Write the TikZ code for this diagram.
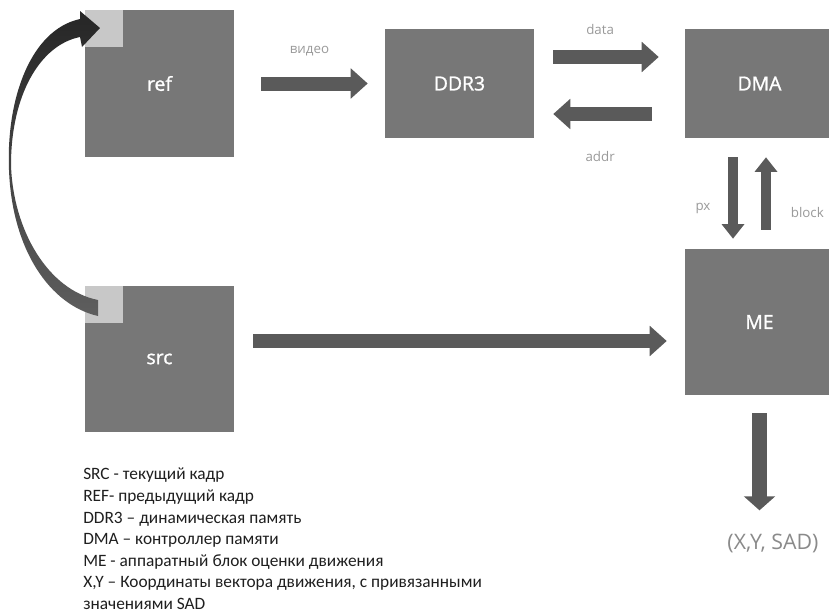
\documentclass[tikz,border=0pt]{standalone}
\usepackage{fontspec}
\setmainfont{Carlito}
\newfontfamily\boxfont{Open Sans}
\newfontfamily\boxlabelfont{Open Sans}[FakeBold=1.2]
\usetikzlibrary{arrows.meta,positioning,calc}

\definecolor{boxgray}{HTML}{777777}
\definecolor{cornergray}{HTML}{C8C8C8}
\definecolor{arrowgray}{HTML}{5A5A5A}
\definecolor{labelgray}{HTML}{9A9A9A}
\definecolor{resgray}{HTML}{8A8A8A}
\definecolor{curvetop}{HTML}{262626}
\definecolor{curvebot}{HTML}{5E5E5E}

\tikzset{
  blk/.style={fill=boxgray,inner sep=0pt,minimum width=111.75pt,
    text=white,font=\boxlabelfont\fontsize{14.5}{17}\selectfont},
  corner/.style={fill=cornergray,inner sep=0pt,anchor=north west,
    minimum width=28.5pt,minimum height=27.75pt},
  fat/.style={draw=arrowgray,line width=10.5pt,
    -{Triangle[width=22pt,length=12.75pt]}},
  slim/.style={draw=arrowgray,line width=8pt,
    -{Triangle[width=16.5pt,length=11pt]}},
  lbl/.style={text=labelgray,font=\boxfont\fontsize{10}{12}\selectfont}
}

\begin{document}
\begin{tikzpicture}[x=0.75pt,y=-0.75pt]
\clip (0,0) rectangle (829,614);
\fill[white] (0,0) rectangle (829,614);
%boxes
\node[blk,minimum height=110.25pt] (ref) at (159.5,83.5) {ref};
\node[blk,minimum height=109.5pt] (src) at (159.5,359) {src};
\node[blk,minimum height=81.75pt] (ddr) at (459.5,83.5) {DDR3};
\node[blk,minimum height=81.75pt] (dma) at (759.5,83.5) {DMA};
\node[blk,minimum height=109.5pt] (me) at (759.5,322) {ME};
\node[corner] (refc) at (ref.north west) {};
\node[corner] (srcc) at (src.north west) {};
%src -> ref
\shade[top color=curvetop,bottom color=curvebot]
  (80,19) .. controls (30,30) and (6,100) .. (9,170)
  .. controls (12,250) and (50,305) .. (98,316) -- (98,300)
  .. controls (48,290) and (13,230) .. (11,165)
  .. controls (11,95) and (40,45) .. (80,37)
  -- (82,47) -- (100,28) -- (80,11) -- cycle;
%memory
\draw[fat,shorten <=20.25pt,shorten >=12.75pt] (ref.east) --
  node[lbl,yshift=24pt]{видео} (ddr.west);
\draw[fat,shorten <=14.25pt,shorten >=19.5pt] (ddr.east |- 0,57) --
  node[lbl,xshift=-7pt,yshift=21pt]{data} (dma.west |- 0,57);
\draw[fat,shorten <=24.75pt,shorten >=14.25pt] (dma.west |- 0,114) --
  node[lbl,xshift=-7pt,yshift=-32pt]{addr} (ddr.east |- 0,114);
%dma <-> me
\draw[slim,shorten <=14.25pt,shorten >=7.5pt] (dma.south -| 733,0) --
  node[lbl,xshift=-22.5pt,yshift=-11.5pt]{px} (me.north -| 733,0);
\draw[slim,shorten <=14.25pt,shorten >=14.25pt] (me.north -| 766,0) --
  node[lbl,xshift=31pt,yshift=-14pt]{block} (dma.south -| 766,0);
%src -> me
\draw[fat,line width=11pt,shorten <=14.25pt,shorten >=13.5pt]
  (src.east |- 0,341) -- (me.west |- 0,341);
%output
\node[text=resgray,inner sep=0pt,font=\boxfont\fontsize{16}{19}\selectfont]
  (res) at (773,543) {(X,Y, SAD)};
\draw[fat,line width=11pt,-{Triangle[width=23pt,length=10.5pt]},
  shorten <=13.5pt,shorten >=17.25pt] (me.south) -- (me.south |- res.north);
%legend
\node[anchor=north west,align=left,inner sep=0pt,text=black!88,
  font=\fontsize{13}{16.2}\selectfont] (legend) at (83,468)
  {SRC - текущий кадр\\
   REF- предыдущий кадр\\
   DDR3 – динамическая память\\
   DMA – контроллер памяти\\
   ME - аппаратный блок оценки движения\\
   X,Y – Координаты вектора движения, с привязанными\\
   значениями SAD};
\end{tikzpicture}
\end{document}
